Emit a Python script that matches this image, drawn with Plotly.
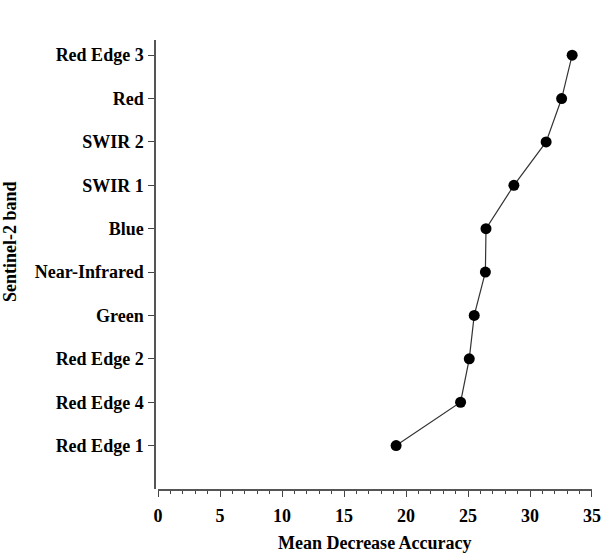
import plotly.graph_objects as go

bands = ["Red Edge 1", "Red Edge 4", "Red Edge 2", "Green", "Near-Infrared",
         "Blue", "SWIR 1", "SWIR 2", "Red", "Red Edge 3"]
mda = [19.2, 24.4, 25.1, 25.5, 26.4, 26.45, 28.7, 31.3, 32.55, 33.4]
x_ticks = [0, 5, 10, 15, 20, 25, 30, 35]

font_family = "Liberation Serif, Times New Roman, serif"

fig = go.Figure()
fig.add_trace(go.Scatter(
    x=mda, y=bands, mode="lines+markers",
    line=dict(color="#333333", width=1.2),
    marker=dict(color="black", size=11),
    showlegend=False,
))

fig.update_layout(
    width=601, height=554,
    margin=dict(l=155, r=9, t=40, b=65),
    paper_bgcolor="white", plot_bgcolor="white",
    font=dict(family=font_family, size=18, color="black"),
    xaxis=dict(
        domain=[0.007, 1], range=[0, 35], automargin=False,
        tickvals=x_ticks, ticks="outside", ticklen=6, tickwidth=1.2, tickcolor="#444",
        ticklabelstandoff=4,
        showline=True, linecolor="#555", linewidth=1.5,
        showgrid=False, zeroline=False,
        tickfont=dict(family=font_family, size=18, color="black", weight="bold"),
        minor=dict(dtick=1, ticks="outside", ticklen=3, tickcolor="#444", tickwidth=1, showgrid=False),
    ),
    yaxis=dict(
        type="category", categoryorder="array", categoryarray=bands,
        range=[-1, 9.35], anchor="free", position=0, automargin=False,
        ticks="outside", ticklen=6, tickwidth=1.2, tickcolor="#444",
        ticklabelstandoff=1,
        showline=True, linecolor="#555", linewidth=1.5,
        showgrid=False, zeroline=False,
        tickfont=dict(family=font_family, size=18, color="black", weight="bold"),
    ),
    annotations=[
        dict(text="<b>Mean Decrease Accuracy</b>", xref="paper", yref="paper",
             x=0.503, y=-0.120, xanchor="center", yanchor="middle", showarrow=False,
             font=dict(family=font_family, size=18, color="black")),
        dict(text="<b>Sentinel-2 band</b>", xref="paper", yref="paper",
             x=-0.332, y=0.552, xanchor="center", yanchor="middle", showarrow=False,
             textangle=-90,
             font=dict(family=font_family, size=18, color="black")),
    ],
)

fig.write_html("out.html", config={"displayModeBar": False},
               post_script="document.body.style.margin='0';document.body.style.overflow='hidden';")
